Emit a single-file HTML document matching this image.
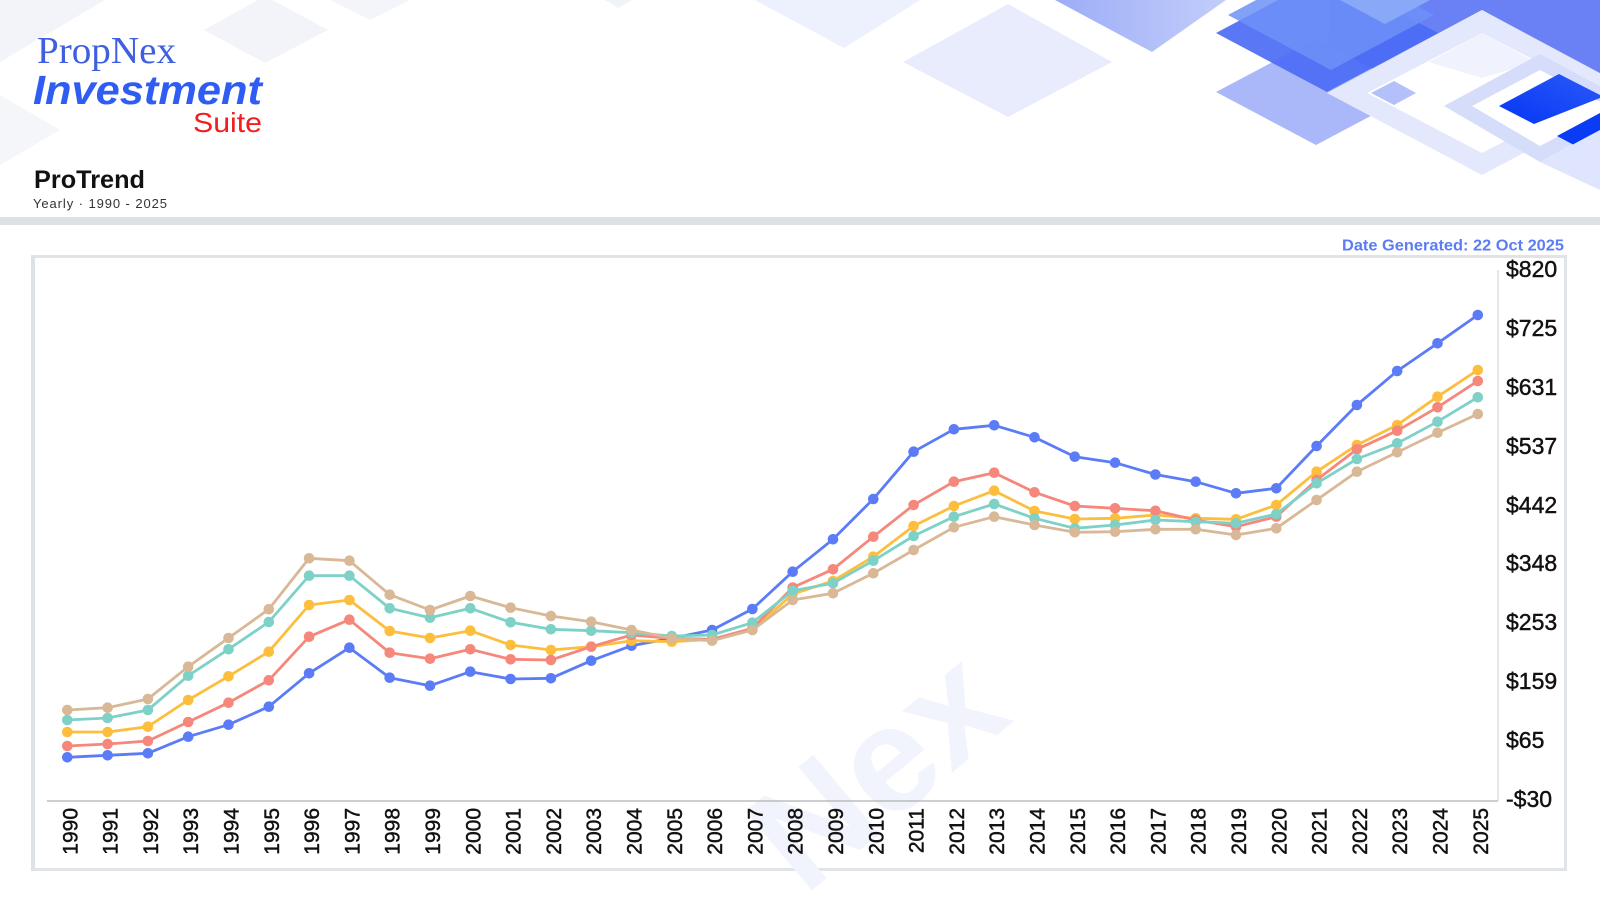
<!DOCTYPE html>
<html>
<head>
<meta charset="utf-8">
<style>
  html,body{margin:0;padding:0;background:#fff;}
  body{width:1600px;height:905px;overflow:hidden;}
  svg{display:block;overflow:hidden;}
  text{font-family:"Liberation Sans",Arial,sans-serif;}
</style>
</head>
<body>
<svg width="1600" height="905" viewBox="0 0 1600 905" xmlns="http://www.w3.org/2000/svg">
  <defs>
    <clipPath id="page"><rect x="0" y="0" width="1600" height="905"/></clipPath>
    <marker id="mb" markerWidth="12" markerHeight="12" refX="6" refY="6" markerUnits="userSpaceOnUse"><circle cx="6" cy="6" r="5.3" fill="#5b7cf6"/></marker>
    <marker id="mr" markerWidth="12" markerHeight="12" refX="6" refY="6" markerUnits="userSpaceOnUse"><circle cx="6" cy="6" r="5.3" fill="#f5877b"/></marker>
    <marker id="my" markerWidth="12" markerHeight="12" refX="6" refY="6" markerUnits="userSpaceOnUse"><circle cx="6" cy="6" r="5.3" fill="#fdbe3d"/></marker>
    <marker id="mt" markerWidth="12" markerHeight="12" refX="6" refY="6" markerUnits="userSpaceOnUse"><circle cx="6" cy="6" r="5.3" fill="#7dd1c6"/></marker>
    <marker id="mn" markerWidth="12" markerHeight="12" refX="6" refY="6" markerUnits="userSpaceOnUse"><circle cx="6" cy="6" r="5.3" fill="#d8b896"/></marker>
    <linearGradient id="gC" x1="0" y1="0" x2="1" y2="0">
      <stop offset="0" stop-color="#9cadf7"/><stop offset="1" stop-color="#c3cdfa"/>
    </linearGradient>
    <linearGradient id="gS" x1="0" y1="1" x2="1" y2="0">
      <stop offset="0" stop-color="#0636f5"/><stop offset="1" stop-color="#2a5af6"/>
    </linearGradient>
  </defs>

  <g clip-path="url(#page)">
  <!-- Header decorative shapes -->
  <g>
    <polygon points="0,0 105,0 0,62" fill="#f3f4f9"/>
    <polygon points="0,95 60,130 0,165" fill="#f5f6fa"/>
    <polygon points="204,30 265,-4 328,30 265,63" fill="#f3f4fa"/>
    <polygon points="330,0 410,0 370,20" fill="#f4f5fa"/>
    <polygon points="605,0 632,0 618,8" fill="#f1f3fb"/>
    <polygon points="755,0 920,0 844,48" fill="#edf0fd"/>
    <polygon points="1008,4 1112,62 1008,117 903,62" fill="#e8ecfc"/>
    <polygon points="1055,0 1226,0 1152,52" fill="url(#gC)"/>

    <polygon points="1330,0 1600,0 1600,75 1482,10 1327,93" fill="#6a80f5"/>
    <polygon points="1216,92 1316,39 1416,92 1316,145" fill="#aab8f9"/>
    <polygon points="1327,-26 1438,33 1327,92 1216,33" fill="#4c6bf5" opacity="0.92"/>
    <polygon points="1331,-40 1434,15 1331,70 1228,15" fill="#6e90f7" opacity="0.85"/>
    <polygon points="1340,0 1430,0 1385,24" fill="#8aa8f8"/>
    <polygon points="1482,10 1637,93 1482,175 1327,93" fill="#e3e8fc"/>
    <polygon points="1482,33 1597,93 1482,153 1367,93" fill="#ffffff"/>
    <polygon points="1429,62 1482,33 1535,62 1482,78" fill="#f0f3fe"/>
    <polygon points="1371,93 1394,81 1416,93 1394,105" fill="#b3c0f9"/>
    <polygon points="1444,106 1540,54 1640,108 1540,162" fill="#d6ddfb"/>
    <polygon points="1472,106 1540,70 1612,108 1540,146" fill="#ffffff"/>
    <polygon points="1499,106 1559,74 1600,95 1600,98 1534,124" fill="url(#gS)"/>
    <polygon points="1557,136 1600,113 1600,147 1589,153" fill="#0b3cf5"/>
    <polygon points="1540,162 1600,130 1600,190" fill="#dfe5fc"/>
  </g>

  <!-- Logo -->
  <text x="37" y="63" font-size="38" fill="#3d5fe0" textLength="139" lengthAdjust="spacingAndGlyphs" style="font-family:'Liberation Serif',serif">PropNex</text>
  <text x="33" y="104" font-size="41" font-weight="bold" font-style="italic" fill="#2f5cf2" textLength="229" lengthAdjust="spacingAndGlyphs">Investment</text>
  <text x="193" y="132" font-size="28" fill="#f41c1c" textLength="69" lengthAdjust="spacingAndGlyphs">Suite</text>

  <text x="34" y="188" font-size="25" font-weight="bold" fill="#111" textLength="111" lengthAdjust="spacingAndGlyphs">ProTrend</text>
  <text x="33" y="208" font-size="13" fill="#333" textLength="134" lengthAdjust="spacing">Yearly  ·  1990 - 2025</text>

  <rect x="0" y="217" width="1600" height="8" fill="#dde1e5"/>

  <text x="1342" y="250.5" font-size="16" font-weight="bold" fill="#5b7cf4" textLength="222" lengthAdjust="spacingAndGlyphs">Date Generated: 22 Oct 2025</text>

  <!-- chart box -->
  <rect x="32.5" y="256.5" width="1533" height="613" fill="#ffffff" stroke="#e0e4e9" stroke-width="3"/>
  <rect x="31" y="256" width="4" height="615" fill="#dde2e7"/>

  <!-- watermark -->
  <text transform="translate(1015 720) rotate(-40)" text-anchor="end" font-size="150" font-weight="bold" fill="#f1f3fd">Nex</text>

  <!-- axes -->
  <line x1="47" y1="801" x2="1498" y2="801" stroke="#b0b0b0" stroke-width="1.2"/>
  <line x1="1498" y1="270" x2="1498" y2="801" stroke="#cfcfcf" stroke-width="1"/>

  <!-- y labels -->
  <g font-size="23" fill="#111" stroke="#111" stroke-width="0.45">
    <text x="1506" y="277">$820</text>
    <text x="1506" y="336">$725</text>
    <text x="1506" y="395">$631</text>
    <text x="1506" y="454">$537</text>
    <text x="1506" y="513">$442</text>
    <text x="1506" y="571">$348</text>
    <text x="1506" y="630">$253</text>
    <text x="1506" y="689">$159</text>
    <text x="1506" y="748">$65</text>
    <text x="1506" y="807">-$30</text>
  </g>

  <!-- x labels -->
  <g font-size="21" fill="#111" stroke="#111" stroke-width="0.45" text-anchor="end">
    <text transform="translate(77.3 808) rotate(-90)">1990</text>
    <text transform="translate(117.6 808) rotate(-90)">1991</text>
    <text transform="translate(157.9 808) rotate(-90)">1992</text>
    <text transform="translate(198.2 808) rotate(-90)">1993</text>
    <text transform="translate(238.5 808) rotate(-90)">1994</text>
    <text transform="translate(278.8 808) rotate(-90)">1995</text>
    <text transform="translate(319.1 808) rotate(-90)">1996</text>
    <text transform="translate(359.4 808) rotate(-90)">1997</text>
    <text transform="translate(399.7 808) rotate(-90)">1998</text>
    <text transform="translate(440 808) rotate(-90)">1999</text>
    <text transform="translate(480.3 808) rotate(-90)">2000</text>
    <text transform="translate(520.6 808) rotate(-90)">2001</text>
    <text transform="translate(560.9 808) rotate(-90)">2002</text>
    <text transform="translate(601.2 808) rotate(-90)">2003</text>
    <text transform="translate(641.5 808) rotate(-90)">2004</text>
    <text transform="translate(681.8 808) rotate(-90)">2005</text>
    <text transform="translate(722.1 808) rotate(-90)">2006</text>
    <text transform="translate(762.4 808) rotate(-90)">2007</text>
    <text transform="translate(802.7 808) rotate(-90)">2008</text>
    <text transform="translate(843 808) rotate(-90)">2009</text>
    <text transform="translate(883.3 808) rotate(-90)">2010</text>
    <text transform="translate(923.6 808) rotate(-90)">2011</text>
    <text transform="translate(963.9 808) rotate(-90)">2012</text>
    <text transform="translate(1004.2 808) rotate(-90)">2013</text>
    <text transform="translate(1044.5 808) rotate(-90)">2014</text>
    <text transform="translate(1084.8 808) rotate(-90)">2015</text>
    <text transform="translate(1125.1 808) rotate(-90)">2016</text>
    <text transform="translate(1165.4 808) rotate(-90)">2017</text>
    <text transform="translate(1205.7 808) rotate(-90)">2018</text>
    <text transform="translate(1246 808) rotate(-90)">2019</text>
    <text transform="translate(1286.3 808) rotate(-90)">2020</text>
    <text transform="translate(1326.6 808) rotate(-90)">2021</text>
    <text transform="translate(1366.9 808) rotate(-90)">2022</text>
    <text transform="translate(1407.2 808) rotate(-90)">2023</text>
    <text transform="translate(1447.5 808) rotate(-90)">2024</text>
    <text transform="translate(1487.8 808) rotate(-90)">2025</text>
  </g>

  <!-- series -->
  <g fill="none" stroke-width="2.8" stroke-linejoin="round" stroke-linecap="round">
    <polyline stroke="#5b7cf6" marker-start="url(#mb)" marker-mid="url(#mb)" marker-end="url(#mb)"
      points="67.3,757.3 107.6,755.3 147.9,753.3 188.2,736.7 228.5,724.7 268.8,706.7 309.1,673.3 349.4,647.7 389.7,677.7 430,685.7 470.3,671.7 510.6,679 550.9,678.3 591.2,660.7 631.5,645.7 671.8,638.3 712.1,630 752.4,609 792.7,571.7 833,539.3 873.3,499 913.6,451.7 953.9,429.3 994.2,425.3 1034.5,437.3 1074.8,456.7 1115.1,462.7 1155.4,474.5 1195.7,481.7 1236,493.3 1276.3,488.3 1316.6,446 1356.9,405 1397.2,371 1437.5,343.3 1477.8,315"/>
    <polyline stroke="#fdbe3d" marker-start="url(#my)" marker-mid="url(#my)" marker-end="url(#my)"
      points="67.3,732 107.6,732 147.9,726.7 188.2,700 228.5,676.3 268.8,651.7 309.1,605 349.4,600 389.7,631 430,638 470.3,630.7 510.6,645 550.9,650 591.2,646.7 631.5,640.7 671.8,641.7 712.1,639.3 752.4,630 792.7,594 833,581 873.3,556.7 913.6,526 953.9,506 994.2,490.7 1034.5,511 1074.8,519 1115.1,518.3 1155.4,515 1195.7,518.3 1236,519.3 1276.3,505 1316.6,471.7 1356.9,445 1397.2,425 1437.5,396.7 1477.8,370"/>
    <polyline stroke="#f5877b" marker-start="url(#mr)" marker-mid="url(#mr)" marker-end="url(#mr)"
      points="67.3,746 107.6,744 147.9,741 188.2,722 228.5,702.7 268.8,680.3 309.1,636.7 349.4,619.7 389.7,652.7 430,658.7 470.3,649.3 510.6,659.3 550.9,660 591.2,646.7 631.5,635 671.8,638.3 712.1,639.3 752.4,628.3 792.7,587.5 833,569.3 873.3,536.7 913.6,505 953.9,481.7 994.2,472.7 1034.5,492.3 1074.8,506 1115.1,508.3 1155.4,510.8 1195.7,520 1236,526.7 1276.3,516.7 1316.6,480 1356.9,449.3 1397.2,430.7 1437.5,407.3 1477.8,381"/>
    <polyline stroke="#7dd1c6" marker-start="url(#mt)" marker-mid="url(#mt)" marker-end="url(#mt)"
      points="67.3,720 107.6,718 147.9,710 188.2,675.7 228.5,649.3 268.8,622 309.1,575.7 349.4,575.7 389.7,608.3 430,617.7 470.3,608.3 510.6,622.3 550.9,629.3 591.2,630.7 631.5,632.7 671.8,636 712.1,635 752.4,622.7 792.7,590.7 833,583.3 873.3,560.7 913.6,536 953.9,516.7 994.2,504 1034.5,518.3 1074.8,528.3 1115.1,525 1155.4,520 1195.7,521.7 1236,523.3 1276.3,514 1316.6,483.3 1356.9,459 1397.2,443.3 1437.5,421.7 1477.8,397.3"/>
    <polyline stroke="#d8b896" marker-start="url(#mn)" marker-mid="url(#mn)" marker-end="url(#mn)"
      points="67.3,710 107.6,707.7 147.9,699 188.2,666.7 228.5,638 268.8,609.3 309.1,558.3 349.4,560.7 389.7,594.7 430,610 470.3,596 510.6,607.7 550.9,616 591.2,621.7 631.5,630 671.8,638.3 712.1,640.7 752.4,630 792.7,600 833,593.3 873.3,573.3 913.6,550 953.9,527.3 994.2,516.7 1034.5,525 1074.8,532.3 1115.1,531.7 1155.4,529.3 1195.7,529.3 1236,535 1276.3,528.3 1316.6,500 1356.9,471.7 1397.2,452.3 1437.5,432.7 1477.8,414"/>
  </g>
  </g>
</svg>
</body>
</html>
